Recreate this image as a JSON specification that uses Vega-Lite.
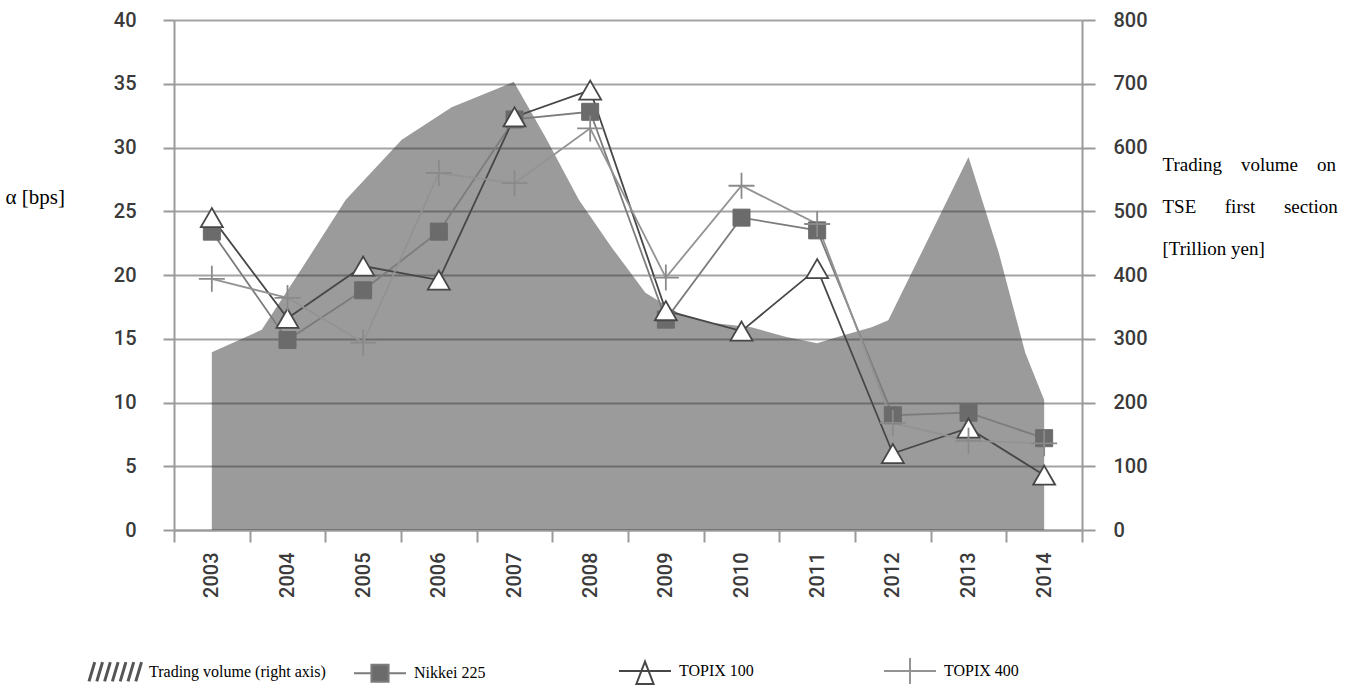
{
  "$schema": "https://vega.github.io/schema/vega-lite/v6.json",
  "width": 908,
  "height": 510,
  "autosize": {"type": "none"},
  "padding": {"left": 174, "top": 20, "right": 276, "bottom": 161},
  "background": "white",
  "config": {"view": {"stroke": null}},
  "datasets": {
    "volume": [
      {"year": 2003.0, "vol": 279}, {"year": 2003.66, "vol": 314}, {"year": 2004.15, "vol": 403},
      {"year": 2004.77, "vol": 518}, {"year": 2005.51, "vol": 612}, {"year": 2006.17, "vol": 663},
      {"year": 2006.99, "vol": 703}, {"year": 2007.41, "vol": 616}, {"year": 2007.85, "vol": 518},
      {"year": 2008.28, "vol": 444}, {"year": 2008.73, "vol": 372}, {"year": 2009.17, "vol": 340},
      {"year": 2009.6, "vol": 325}, {"year": 2010.13, "vol": 318}, {"year": 2010.58, "vol": 303},
      {"year": 2011.0, "vol": 293}, {"year": 2011.28, "vol": 303}, {"year": 2011.72, "vol": 318},
      {"year": 2011.94, "vol": 329}, {"year": 2013.0, "vol": 585}, {"year": 2013.4, "vol": 435},
      {"year": 2013.75, "vol": 278}, {"year": 2014.0, "vol": 204}
    ],
    "alpha": [
      {"series": "Nikkei 225", "year": 2003, "alpha": 23.4},
      {"series": "Nikkei 225", "year": 2004, "alpha": 14.9},
      {"series": "Nikkei 225", "year": 2005, "alpha": 18.8},
      {"series": "Nikkei 225", "year": 2006, "alpha": 23.4},
      {"series": "Nikkei 225", "year": 2007, "alpha": 32.2},
      {"series": "Nikkei 225", "year": 2008, "alpha": 32.8},
      {"series": "Nikkei 225", "year": 2009, "alpha": 16.5},
      {"series": "Nikkei 225", "year": 2010, "alpha": 24.5},
      {"series": "Nikkei 225", "year": 2011, "alpha": 23.5},
      {"series": "Nikkei 225", "year": 2012, "alpha": 9.0},
      {"series": "Nikkei 225", "year": 2013, "alpha": 9.2},
      {"series": "Nikkei 225", "year": 2014, "alpha": 7.2},
      {"series": "TOPIX 100", "year": 2003, "alpha": 24.5},
      {"series": "TOPIX 100", "year": 2004, "alpha": 16.6},
      {"series": "TOPIX 100", "year": 2005, "alpha": 20.7},
      {"series": "TOPIX 100", "year": 2006, "alpha": 19.6},
      {"series": "TOPIX 100", "year": 2007, "alpha": 32.4},
      {"series": "TOPIX 100", "year": 2008, "alpha": 34.5},
      {"series": "TOPIX 100", "year": 2009, "alpha": 17.2},
      {"series": "TOPIX 100", "year": 2010, "alpha": 15.6},
      {"series": "TOPIX 100", "year": 2011, "alpha": 20.5},
      {"series": "TOPIX 100", "year": 2012, "alpha": 6.0},
      {"series": "TOPIX 100", "year": 2013, "alpha": 8.0},
      {"series": "TOPIX 100", "year": 2014, "alpha": 4.3},
      {"series": "TOPIX 400", "year": 2003, "alpha": 19.7},
      {"series": "TOPIX 400", "year": 2004, "alpha": 18.2},
      {"series": "TOPIX 400", "year": 2005, "alpha": 14.7},
      {"series": "TOPIX 400", "year": 2006, "alpha": 28.0},
      {"series": "TOPIX 400", "year": 2007, "alpha": 27.2},
      {"series": "TOPIX 400", "year": 2008, "alpha": 31.5},
      {"series": "TOPIX 400", "year": 2009, "alpha": 19.8},
      {"series": "TOPIX 400", "year": 2010, "alpha": 27.0},
      {"series": "TOPIX 400", "year": 2011, "alpha": 24.0},
      {"series": "TOPIX 400", "year": 2012, "alpha": 8.4},
      {"series": "TOPIX 400", "year": 2013, "alpha": 7.0},
      {"series": "TOPIX 400", "year": 2014, "alpha": 6.8}
    ]
  },
  "encoding": {
    "x": {
      "field": "year",
      "type": "quantitative",
      "scale": {"domain": [2002.5, 2014.5], "nice": false, "zero": false},
      "axis": {
        "title": null,
        "values": [2002.5, 2003, 2003.5, 2004, 2004.5, 2005, 2005.5, 2006, 2006.5, 2007, 2007.5, 2008, 2008.5, 2009, 2009.5, 2010, 2010.5, 2011, 2011.5, 2012, 2012.5, 2013, 2013.5, 2014, 2014.5],
        "labelExpr": "datum.value % 1 === 0 ? '' + datum.value : ''",
        "tickOpacity": {"condition": {"test": "datum.value % 1 !== 0", "value": 1}, "value": 0},
        "tickSize": 12,
        "tickWidth": 2,
        "tickColor": "#9a9a9a",
        "domainColor": "#9a9a9a",
        "domainWidth": 2,
        "grid": false,
        "labelAngle": -90,
        "labelAlign": "right",
        "labelBaseline": "middle",
        "labelPadding": 10,
        "labelFont": "Roboto",
        "labelFontSize": 20,
        "labelFontWeight": 500,
        "labelColor": "#3a3a3a",
        "labelOverlap": false,
        "labelBound": false,
        "labelFlush": false
      }
    }
  },
  "layer": [
    {
      "data": {"name": "volume"},
      "mark": {"type": "area", "fill": "#383838", "fillOpacity": 0.5, "interpolate": "linear"},
      "encoding": {
        "y": {
          "field": "vol",
          "type": "quantitative",
          "scale": {"domain": [0, 800], "nice": false},
          "axis": {
            "orient": "right",
            "values": [0, 100, 200, 300, 400, 500, 600, 700, 800],
            "grid": false,
            "tickSize": 13,
            "tickWidth": 2,
            "tickColor": "#9a9a9a",
            "domainColor": "#9a9a9a",
            "domainWidth": 2,
            "labelPadding": 18,
            "labelFont": "Roboto",
            "labelFontSize": 20,
            "labelFontWeight": 500,
            "labelColor": "#3a3a3a",
            "labelAlign": "left",
            "title": ["Trading\u00a0\u00a0\u00a0\u00a0volume\u00a0\u00a0\u00a0\u00a0on", "TSE\u00a0\u00a0\u00a0\u00a0\u00a0\u00a0first\u00a0\u00a0\u00a0\u00a0\u00a0\u00a0section", "[Trillion yen]"],
            "titleFont": "Liberation Serif",
            "titleFontSize": 19,
            "titleFontWeight": "normal",
            "titleColor": "#000000",
            "titleAngle": 0,
            "titleAlign": "left",
            "titleBaseline": "alphabetic",
            "titleLineHeight": 42,
            "titleX": 80,
            "titleY": 150
          }
        }
      }
    },
    {
      "data": {"name": "alpha"},
      "encoding": {
        "y": {
          "field": "alpha",
          "type": "quantitative",
          "scale": {"domain": [0, 40], "nice": false},
          "axis": {
            "orient": "left",
            "values": [0, 5, 10, 15, 20, 25, 30, 35, 40],
            "grid": true,
            "gridColor": "#a3a3a3",
            "gridWidth": 2,
            "tickSize": 11,
            "tickWidth": 2,
            "tickColor": "#9a9a9a",
            "domainColor": "#9a9a9a",
            "domainWidth": 2,
            "labelPadding": 27,
            "labelFont": "Roboto",
            "labelFontSize": 20,
            "labelFontWeight": 500,
            "labelColor": "#3a3a3a",
            "title": "α [bps]",
            "titleFont": "Liberation Serif",
            "titleFontSize": 21,
            "titleFontWeight": "normal",
            "titleColor": "#000000",
            "titleAngle": 0,
            "titleAlign": "left",
            "titleBaseline": "alphabetic",
            "titleX": -169,
            "titleY": 183
          }
        }
      },
      "layer": [
        {
          "mark": {"type": "line", "strokeWidth": 1.8},
          "encoding": {
            "stroke": {
              "field": "series",
              "type": "nominal",
              "scale": {
                "domain": ["Trading volume (right axis)", "Nikkei 225", "TOPIX 100", "TOPIX 400"],
                "range": ["#555555", "#7c7c7c", "#474747", "#939393"]
              },
              "legend": {
                "orient": "none",
                "legendX": -67,
                "legendY": 643,
                "direction": "horizontal",
                "columns": 4,
                "title": null,
                "padding": 0,
                "symbolSize": 2704,
                "symbolStrokeWidth": 2,
                "labelFont": "Liberation Serif",
                "labelFontSize": 16,
                "labelColor": "#000000",
                "labelOffset": 26,
                "labelLimit": 400,
                "columnPadding": 24,
                "gridAlign": "all",
                "encode": {
                  "symbols": {
                    "update": {
                      "shape": {"signal": "datum.value === 'Trading volume (right axis)' ? 'M-1,0.37L-0.78,-0.37M-0.7,0.37L-0.48,-0.37M-0.4,0.37L-0.18,-0.37M-0.1,0.37L0.12,-0.37M0.2,0.37L0.42,-0.37M0.5,0.37L0.72,-0.37M0.8,0.37L1.02,-0.37' : datum.value === 'Nikkei 225' ? 'M-1,0H-0.33M0.33,0H1M-0.33,-0.33H0.33V0.33H-0.33Z' : datum.value === 'TOPIX 100' ? 'M-1,0H1M0,-0.36L0.33,0.5H-0.33Z' : 'M-1,0H1M0,-0.5V0.5'"},
                      "fill": {"signal": "datum.value === 'Nikkei 225' ? '#6b6b6b' : datum.value === 'TOPIX 100' ? '#ffffff' : 'transparent'"},
                      "strokeWidth": {"signal": "datum.value === 'Trading volume (right axis)' ? 3 : 2"},
                      "opacity": {"value": 1}
                    }
                  }
                }
              }
            }
          }
        },
        {
          "transform": [{"filter": "datum.series === 'Nikkei 225'"}],
          "mark": {"type": "point", "shape": "square", "filled": true, "fill": "#6b6b6b", "stroke": "#6b6b6b", "strokeWidth": 1, "size": 289, "opacity": 1}
        },
        {
          "transform": [{"filter": "datum.series === 'TOPIX 100'"}],
          "mark": {"type": "point", "shape": "triangle-up", "filled": true, "fill": "#ffffff", "stroke": "#474747", "strokeWidth": 1.8, "size": 484, "opacity": 1}
        },
        {
          "transform": [{"filter": "datum.series === 'TOPIX 400'"}],
          "mark": {"type": "point", "shape": "M-1,0H1M0,-1V1", "filled": false, "stroke": "#8a8a8a", "strokeWidth": 1.8, "size": 676, "opacity": 1}
        }
      ]
    }
  ],
  "resolve": {"scale": {"y": "independent"}}
}
